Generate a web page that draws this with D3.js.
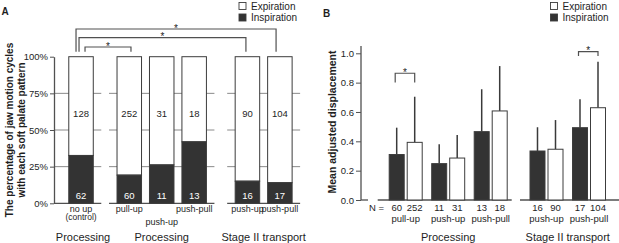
<!DOCTYPE html>
<html><head><meta charset="utf-8">
<script src="https://cdn.jsdelivr.net/npm/d3@7"></script>
<style>
html,body{margin:0;padding:0;background:#fff;}
svg{display:block;font-family:"Liberation Sans",Arial,Helvetica,sans-serif;}
svg text{font-family:"Liberation Sans",Arial,Helvetica,sans-serif;}
</style></head><body>
<svg id="c" width="619" height="243"></svg>
<script>
// ---------- Panel A data ----------
const groupsA = ["Processing", "Processing", "Stage II transport"];
const labelsA = [["no up", "(control)"], ["pull-up"], ["push-up"], ["push-pull"], ["push-up"], ["push-pull"]];
const groupOfA = [0, 1, 1, 1, 2, 2];
const inspCountA = [62, 60, 11, 13, 16, 17];
const expCountA = [128, 252, 31, 18, 90, 104];
const yTicksA = [0, 0.25, 0.5, 0.75, 1];
const sigA = [[0, 5], [0, 4], [0, 1]];   // outer to inner brackets

// ---------- Panel B data ----------
const groupsB = ["Processing", "Stage II transport"];
const labelsB = ["pull-up", "push-up", "push-pull", "push-up", "push-pull"];
const groupOfB = [0, 0, 0, 1, 1];
const nInspB = [60, 11, 13, 16, 17];
const nExpB = [252, 31, 18, 90, 104];
const meanInspB = [0.31, 0.248, 0.466, 0.334, 0.493];
const meanExpB = [0.393, 0.286, 0.607, 0.346, 0.629];
const sdInspB = [0.183, 0.132, 0.289, 0.162, 0.193];
const sdExpB = [0.311, 0.157, 0.306, 0.199, 0.314];
const yTicksB = [0, 0.2, 0.4, 0.6, 0.8, 1.0];
const sigB = [0, 4];
const sigLevelB = [0.864, 1.011];

const legendLabels = ["Expiration", "Inspiration"];

// ---------- styles ----------
const DARK = "#333", EDGE = "#3c3c3c", GRID = "#8a8a8a", AX = "#505050", TXT = "#1e1e1e";
const svg = d3.select("#c");

// ================= PANEL A =================
const gA = svg.append("g");
const yA = d3.scaleLinear().domain([0, 1]).range([203.3, 56.7]);
const axXA = 54;
const stepA = 32.45;
const xbA = d3.scaleBand().domain(d3.range(labelsA.length))
  .range([64.8, 64.8 + labelsA.length * stepA]).paddingInner(0.245).paddingOuter(0.1225);
const gapA = [0, 15.8, 36.6];
const bwA = xbA.bandwidth();
const xA = i => xbA(i) + gapA[groupOfA[i]];
const cA = i => xA(i) + bwA / 2;

groupsA.forEach((g, gi) => {
  const idx = d3.range(labelsA.length).filter(i => groupOfA[i] === gi);
  const x0 = gi === 0 ? axXA : xA(idx[0]) - 8;
  const x1 = xA(idx[idx.length - 1]) + bwA + 8;
  yTicksA.forEach(t => {
    if (t === 1) return;
    gA.append("line").attr("x1", x0).attr("x2", x1).attr("y1", yA(t)).attr("y2", yA(t))
      .attr("stroke", t === 0 ? AX : GRID).attr("stroke-width", t === 0 ? 1.3 : 1);
  });
  const gc = (cA(idx[0]) + cA(idx[idx.length - 1])) / 2;
  gA.append("text").attr("x", gc + (gi === 0 ? 2 : 0)).attr("y", 241).attr("text-anchor", "middle")
    .attr("font-size", 11).attr("fill", TXT).text(g);
});

labelsA.forEach((l, i) => {
  const tot = inspCountA[i] + expCountA[i];
  const f = inspCountA[i] / tot;
  gA.append("rect").attr("x", xA(i)).attr("y", yA(1)).attr("width", bwA).attr("height", yA(f) - yA(1))
    .attr("fill", "#fff").attr("stroke", EDGE).attr("stroke-width", 1);
  gA.append("rect").attr("x", xA(i)).attr("y", yA(f)).attr("width", bwA).attr("height", yA(0) - yA(f))
    .attr("fill", DARK).attr("stroke", EDGE).attr("stroke-width", 1);
  gA.append("text").attr("x", cA(i)).attr("y", 116.5).attr("text-anchor", "middle")
    .attr("font-size", 9.5).attr("fill", TXT).text(expCountA[i]);
  gA.append("text").attr("x", cA(i)).attr("y", 198.5).attr("text-anchor", "middle")
    .attr("font-size", 9.5).attr("fill", "#fff").text(inspCountA[i]);
  const grpIdx = d3.range(labelsA.length).filter(k => groupOfA[k] === groupOfA[i]);
  const stagger = grpIdx.length === 3 && grpIdx[1] === i;
  l.forEach((line, li) => {
    gA.append("text").attr("x", cA(i)).attr("y", (stagger ? 225 : 211.5) + li * 8.5)
      .attr("text-anchor", "middle").attr("font-size", li ? 8.5 : 9).attr("fill", TXT).text(line);
  });
});

const axA = gA.append("g").attr("transform", `translate(${axXA},0)`)
  .call(d3.axisLeft(yA).tickValues(yTicksA).tickFormat(d3.format(".0%")).tickSize(4).tickSizeOuter(0).tickPadding(2))
  .attr("font-family", null).attr("font-size", null);
axA.select(".domain").attr("stroke", AX).attr("stroke-width", 1.3);
axA.selectAll(".tick line").attr("stroke", AX);
axA.selectAll(".tick text").attr("font-size", 9.5).attr("fill", TXT);

gA.append("text").attr("transform", `translate(9,130) rotate(-90)`).attr("text-anchor", "middle")
  .attr("dy", "0.35em").attr("font-size", 10).attr("font-weight", "bold").attr("fill", TXT)
  .text("The percentage of jaw motion cycles");
gA.append("text").attr("transform", `translate(21.5,130) rotate(-90)`).attr("text-anchor", "middle")
  .attr("dy", "0.35em").attr("font-size", 10).attr("font-weight", "bold").attr("fill", TXT)
  .text("with each soft palate pattern");

const leftOff = [-5, -2, 4], rightOff = [-3.8, -1.5, 1.7], topOff = [27.7, 19, 9.7];
sigA.forEach(([a, b], k) => {
  const x1 = cA(a) + leftOff[k], x2 = cA(b) + rightOff[k];
  const yb = yA(1) - 5, yt = yA(1) - topOff[k];
  gA.append("path").attr("d", `M${x1},${yb}V${yt}H${x2}V${yb}`).attr("fill", "none")
    .attr("stroke", AX).attr("stroke-width", 1.2);
  gA.append("text").attr("x", (x1 + x2) / 2).attr("y", yt + 2.5).attr("text-anchor", "middle")
    .attr("font-size", 10).attr("fill", "#222").text("*");
});

function legend(g, x, y) {
  legendLabels.forEach((t, i) => {
    g.append("rect").attr("x", x).attr("y", y + i * 11.5 - 3.5).attr("width", 7).attr("height", 7)
      .attr("fill", i === 0 ? "#fff" : DARK).attr("stroke", EDGE).attr("stroke-width", 0.9);
    g.append("text").attr("x", x + 12).attr("y", y + i * 11.5).attr("dy", "0.35em")
      .attr("font-size", 10).attr("fill", TXT).text(t);
  });
}
legend(gA, 239, 6);

svg.append("text").attr("x", 1.5).attr("y", 15).attr("font-size", 10).attr("font-weight", "bold").attr("fill", TXT).text("A");

// ================= PANEL B =================
const gB = svg.append("g");
const yB = d3.scaleLinear().domain([0, 1]).range([200, 53.3]);
const axXB = 361;
const stepB = 42.5;
const xbB = d3.scaleBand().domain(d3.range(labelsB.length)).range([384.45, 384.45 + labelsB.length * stepB]);
const gapB = [0, 13.3];
const cB = i => xbB(i) + gapB[groupOfB[i]] + stepB / 2;
const inner = d3.scaleBand().domain(["insp", "exp"]).range([-16.5, 16.5]).paddingInner(0.167);
const bwB = inner.bandwidth();

gB.append("line").attr("x1", axXB).attr("x2", axXB + 7).attr("y1", yB(0)).attr("y2", yB(0))
  .attr("stroke", AX).attr("stroke-width", 1.3);
const padB = [[11.5, 4.5], [10, 14]];
groupsB.forEach((g, gi) => {
  const idx = d3.range(labelsB.length).filter(i => groupOfB[i] === gi);
  const x0 = cB(idx[0]) + inner("insp") - padB[gi][0];
  const x1 = cB(idx[idx.length - 1]) + inner("exp") + bwB + padB[gi][1];
  gB.append("line").attr("x1", x0).attr("x2", x1).attr("y1", yB(0)).attr("y2", yB(0))
    .attr("stroke", AX).attr("stroke-width", 1.3);
  const gc = (cB(idx[0]) + cB(idx[idx.length - 1])) / 2;
  gB.append("text").attr("x", gc).attr("y", 241).attr("text-anchor", "middle")
    .attr("font-size", 11).attr("fill", TXT).text(g);
});

labelsB.forEach((l, i) => {
  const series = [
    {k: "insp", m: meanInspB[i], s: sdInspB[i], n: nInspB[i], fill: DARK},
    {k: "exp", m: meanExpB[i], s: sdExpB[i], n: nExpB[i], fill: "#fff"}
  ];
  series.forEach(d => {
    const x = cB(i) + inner(d.k);
    gB.append("line").attr("x1", x + bwB / 2).attr("x2", x + bwB / 2)
      .attr("y1", yB(d.m)).attr("y2", yB(d.m + d.s)).attr("stroke", "#3a3a3a").attr("stroke-width", 1.5);
    gB.append("rect").attr("x", x).attr("y", yB(d.m)).attr("width", bwB).attr("height", yB(0) - yB(d.m))
      .attr("fill", d.fill).attr("stroke", EDGE).attr("stroke-width", 1);
    gB.append("text").attr("x", x + bwB / 2).attr("y", 210.5).attr("text-anchor", "middle")
      .attr("font-size", 9.5).attr("fill", TXT).text(d.n);
  });
  gB.append("text").attr("x", cB(i)).attr("y", 221.5).attr("text-anchor", "middle")
    .attr("font-size", 9.5).attr("fill", TXT).text(l);
});
gB.append("text").attr("x", 376.5).attr("y", 210.5).attr("text-anchor", "middle")
  .attr("font-size", 9.5).attr("fill", TXT).text("N =");

const axB = gB.append("g").attr("transform", `translate(${axXB},0)`)
  .call(d3.axisLeft(yB).tickValues(yTicksB).tickFormat(d3.format(".1f")).tickSize(5).tickSizeOuter(0).tickPadding(2))
  .attr("font-family", null).attr("font-size", null);
axB.select(".domain").remove();
axB.append("line").attr("x1", 0).attr("x2", 0).attr("y1", yB(0)).attr("y2", yB(1.05))
  .attr("stroke", AX).attr("stroke-width", 1.3);
axB.selectAll(".tick line").attr("stroke", AX);
axB.selectAll(".tick text").attr("font-size", 9.5).attr("fill", TXT);

gB.append("text").attr("transform", `translate(332,122) rotate(-90)`).attr("text-anchor", "middle")
  .attr("dy", "0.35em").attr("font-size", 10.5).attr("font-weight", "bold").attr("fill", TXT)
  .text("Mean adjusted displacement");

const legB = [9.3, 4.3];
sigB.forEach((i, k) => {
  const x1 = cB(i) + inner("insp") + bwB / 2 - 1.5, x2 = cB(i) + inner("exp") + bwB / 2;
  const yt = yB(sigLevelB[k]), yb = yt + legB[k];
  gB.append("path").attr("d", `M${x1},${yb}V${yt}H${x2}V${yb}`).attr("fill", "none")
    .attr("stroke", AX).attr("stroke-width", 1.2);
  gB.append("text").attr("x", (x1 + x2) / 2).attr("y", yt + 2.5).attr("text-anchor", "middle")
    .attr("font-size", 10).attr("fill", "#222").text("*");
});

legend(gB, 550.5, 6);
svg.append("text").attr("x", 323).attr("y", 17).attr("font-size", 10).attr("font-weight", "bold").attr("fill", TXT).text("B");
</script>
</body></html>
